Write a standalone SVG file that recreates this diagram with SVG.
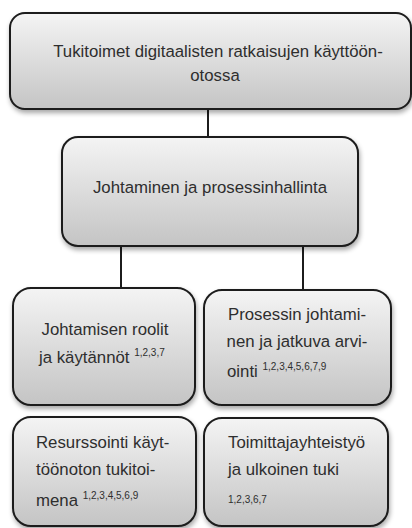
<svg xmlns="http://www.w3.org/2000/svg" width="412" height="528" viewBox="0 0 412 528">
<defs>
<linearGradient id="g" x1="0" y1="0" x2="0" y2="1">
<stop offset="0" stop-color="#f4f4f4"/>
<stop offset="1" stop-color="#c4c4c4"/>
</linearGradient>
<filter id="sh" x="-10%" y="-10%" width="120%" height="130%">
<feGaussianBlur in="SourceAlpha" stdDeviation="2.5"/>
<feOffset dx="1" dy="3" result="b"/>
<feComponentTransfer><feFuncA type="linear" slope="0.35"/></feComponentTransfer>
<feMerge><feMergeNode/><feMergeNode in="SourceGraphic"/></feMerge>
</filter>
</defs>
<style>
.box{fill:url(#g);stroke:#1c1c1c;stroke-width:2;filter:url(#sh)}
.t{font-family:"Liberation Sans",Arial,sans-serif;font-size:16.8px;fill:#2e2e2e}
.s{font-size:10px}
.c{text-anchor:middle}
.ln{stroke:#1c1c1c;stroke-width:2;fill:none}
</style>
<rect width="412" height="528" fill="#ffffff"/>
<g id="connectors">
<line class="ln" x1="208" y1="109" x2="208" y2="138"/>
<line class="ln" x1="121" y1="245" x2="121" y2="289"/>
<line class="ln" x1="303" y1="245" x2="303" y2="291"/>
</g>
<g id="n1">
<rect class="box" x="10" y="13" width="401" height="96" rx="15"/>
<text class="t c" x="218" y="57">Tukitoimet digitaalisten ratkaisujen käyttöön-</text>
<text class="t c" x="215" y="81">otossa</text>
</g>
<g id="n2">
<rect class="box" x="62" y="137" width="296" height="109" rx="16"/>
<text class="t c" x="210" y="193">Johtaminen ja prosessinhallinta</text>
</g>
<g id="n3">
<rect class="box" x="13" y="288" width="182" height="117" rx="18"/>
<text class="t c" x="105" y="335">Johtamisen roolit</text>
<text class="t" x="39" y="363">ja käytännöt <tspan class="s" dy="-7">1,2,3,7</tspan></text>
</g>
<g id="n4">
<rect class="box" x="204" y="290" width="187" height="115" rx="18"/>
<text class="t c" x="297" y="320">Prosessin johtami-</text>
<text class="t c" x="297" y="347">nen ja jatkuva arvi-</text>
<text class="t" x="227" y="377">ointi <tspan class="s" dy="-7">1,2,3,4,5,6,7,9</tspan></text>
</g>
<g id="n5">
<rect class="box" x="13" y="417" width="183" height="109" rx="18"/>
<text class="t" x="36" y="448">Resurssointi käyt-</text>
<text class="t" x="36" y="475">töönoton tukitoi-</text>
<text class="t" x="36" y="506">mena <tspan class="s" dy="-7">1,2,3,4,5,6,9</tspan></text>
</g>
<g id="n6">
<rect class="box" x="204" y="418" width="184" height="108" rx="18"/>
<text class="t" x="228" y="448">Toimittajayhteistyö</text>
<text class="t" x="228" y="475">ja ulkoinen tuki</text>
<text class="t s" x="228" y="503">1,2,3,6,7</text>
</g>
</svg>
